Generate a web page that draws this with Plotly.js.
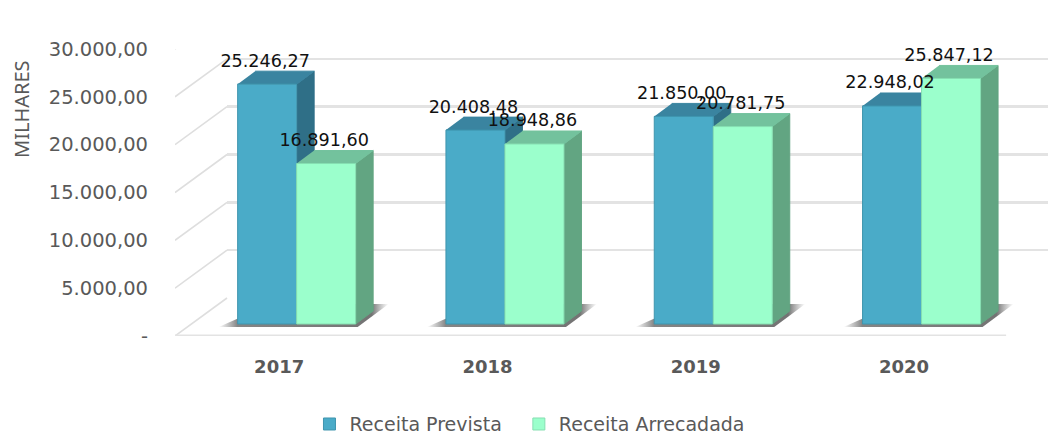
<!DOCTYPE html>
<html><head><meta charset="utf-8">
<script src="https://cdn.plot.ly/plotly-3.0.1.min.js"></script>
<style>html,body{margin:0;padding:0;background:#fff}#c{width:1048px;height:434px}</style></head>
<body><div id="c"></div>
<script>
const years=['2017','2018','2019','2020'];
const receitaPrevista=[25246.27,20408.48,21850.00,22948.02];
const receitaArrecadada=[16891.60,18948.86,20781.75,25847.12];
const tickValues=[0,5000,10000,15000,20000,25000,30000];
const tickLabels=['-','5.000,00','10.000,00','15.000,00','20.000,00','25.000,00','30.000,00'];
const W=1048,H=434;
const pxX=208.3, pxY=287/30000, pxBar=0.0095;
const barW=59/pxX;
const dx=17.5/pxX, dy=13/pxBar;
const frame={l:175,zero:336};
const barPlane={l:192.5,zero:324,below:10};
const backPlane={l:227,zero:298};
const rangeX=[-0.5,3.5], topY=30000, topBar=287/pxBar;
const fmt=v=>v.toLocaleString('de-DE',{minimumFractionDigits:2,maximumFractionDigits:2});
function xDom(l){return [l/W,Math.min(1,(l+4*pxX)/W)];}
function yDom(zero,below){below=below||0;return [(H-zero-below)/H,(H-zero+287)/H];}
const hidden={showgrid:false,zeroline:false,showticklabels:false,ticks:'',showline:false,fixedrange:true};

const traces=[];
const gridCol='#e3e3e3';
traces.push({x:[0],y:[0],xaxis:'x',yaxis:'y',mode:'none',showlegend:false,hoverinfo:'skip'});
const backDX=(backPlane.l-frame.l)/pxX, backDY=(frame.zero-backPlane.zero)/pxY;
tickValues.forEach(v=>{
  traces.push({x:[-0.5,-0.5+backDX],y:[v,v+backDY],xaxis:'x2',yaxis:'y2',mode:'lines',cliponaxis:false,
    line:{color:'#dedede',width:1.6},showlegend:false,hoverinfo:'skip'});
});
traces.push({x:[-0.5,3.49],y:[0,0],xaxis:'x2',yaxis:'y2',mode:'lines',cliponaxis:false,
  line:{color:gridCol,width:3},showlegend:false,hoverinfo:'skip'});
const shade=[[0,'rgba(130,130,130,0)'],[0.11,'rgba(120,120,120,0.9)'],[0.9,'rgba(100,100,100,0.9)'],[1,'rgba(130,130,130,0)']];
years.forEach((_,i)=>{
  const a=i-barW, b=i+barW, tip=19/pxX, reach=33/pxX, low=3/pxBar, high=20/pxBar;
  traces.push({x:[a-tip,b+2/pxX,b+reach,a+reach],y:[-low,-low,high,high],xaxis:'x3',yaxis:'y3',
    mode:'lines',fill:'toself',line:{width:0,color:'rgba(0,0,0,0)'},
    fillgradient:{type:'horizontal',colorscale:shade},showlegend:false,hoverinfo:'skip'});
});
function faces(vals,x0,top,side){
  vals.forEach((v,i)=>{
    const a=i+x0,b=a+barW;
    traces.push({x:[b,b+dx,b+dx,b],y:[0,dy,v+dy,v],xaxis:'x3',yaxis:'y3',mode:'lines',fill:'toself',
      fillcolor:side,line:{color:side,width:1},showlegend:false,hoverinfo:'skip'});
    traces.push({x:[a,b,b+dx,a+dx],y:[v,v,v+dy,v+dy],xaxis:'x3',yaxis:'y3',mode:'lines',fill:'toself',
      fillcolor:top,line:{color:top,width:1},showlegend:false,hoverinfo:'skip'});
  });
}
faces(receitaPrevista,-barW,'#3a84a0','#2f6f87');
faces(receitaArrecadada,0,'#73c29d','#62a582');
const idx=years.map((_,i)=>i);
traces.push({type:'bar',name:'Receita Prevista\u00A0\u00A0',x:idx,y:receitaPrevista,xaxis:'x4',yaxis:'y4',
  marker:{color:'#4aabc8',line:{color:'#3f95ae',width:1}},hoverinfo:'skip'});
traces.push({type:'bar',name:'Receita Arrecadada',x:idx,y:receitaArrecadada,xaxis:'x4',yaxis:'y4',
  marker:{color:'#9bffcc',line:{color:'#86dfb2',width:1}},hoverinfo:'skip'});
const lift=22/pxBar, nudge=2/pxX;
[[receitaPrevista,-barW/2],[receitaArrecadada,barW/2]].forEach(s=>{
  traces.push({x:idx.map(i=>i+s[1]-nudge),y:s[0].map(v=>v+lift),text:s[0].map(fmt),
    xaxis:'x4',yaxis:'y4',mode:'text',textposition:'middle center',cliponaxis:false,
    textfont:{family:'DejaVu Sans',size:17.6,color:'#111'},showlegend:false,hoverinfo:'skip'});
});
const barRange=[-barPlane.below/pxBar,topBar];
const layout={
  width:W,height:H,margin:{l:0,r:0,t:0,b:0,autoexpand:false},paper_bgcolor:'#fff',plot_bgcolor:'rgba(0,0,0,0)',
  barmode:'group',bargap:1-2*barW,bargroupgap:0,
  font:{family:'DejaVu Sans',color:'#595959'},
  showlegend:true,
  legend:{orientation:'h',x:0.5057,xanchor:'center',y:0.0665,yanchor:'top',font:{family:'DejaVu Sans',size:19,color:'#595959'},itemwidth:30,traceorder:'normal'},
  annotations:[{text:'MILHARES',xref:'paper',yref:'paper',x:22/W,y:(H-109)/H,xanchor:'center',yanchor:'middle',textangle:-90,showarrow:false,
    font:{family:'Noto Sans',size:20,color:'#595959'}}],
  xaxis:Object.assign({},hidden,{domain:xDom(backPlane.l),range:[rangeX[0],rangeX[0]+(W-backPlane.l)/pxX],anchor:'y'}),
  yaxis:Object.assign({},hidden,{domain:yDom(backPlane.zero),range:[0,topY],anchor:'x',showgrid:true,gridcolor:gridCol,gridwidth:2.5,tickvals:tickValues}),
  xaxis2:Object.assign({},hidden,{domain:xDom(frame.l),range:rangeX,anchor:'y2',showticklabels:true,tickmode:'array',tickvals:idx,ticktext:years,
    tickfont:{family:'DejaVu Sans',size:18,color:'#595959',weight:'bold'},ticklabelstandoff:18}),
  yaxis2:Object.assign({},hidden,{domain:yDom(frame.zero),range:[0,topY],anchor:'x2',showticklabels:true,tickmode:'array',tickvals:tickValues,ticktext:tickLabels,
    tickfont:{family:'DejaVu Sans',size:19.5,color:'#595959'},ticklabelstandoff:26}),
  xaxis3:Object.assign({},hidden,{domain:xDom(barPlane.l),range:rangeX,anchor:'y3'}),
  yaxis3:Object.assign({},hidden,{domain:yDom(barPlane.zero,barPlane.below),range:barRange,anchor:'x3'}),
  xaxis4:Object.assign({},hidden,{domain:xDom(barPlane.l),range:rangeX,anchor:'y4'}),
  yaxis4:Object.assign({},hidden,{domain:yDom(barPlane.zero,barPlane.below),range:barRange,anchor:'x4'})
};
Plotly.newPlot('c',traces,layout,{displayModeBar:false,staticPlot:true});
</script></body></html>
